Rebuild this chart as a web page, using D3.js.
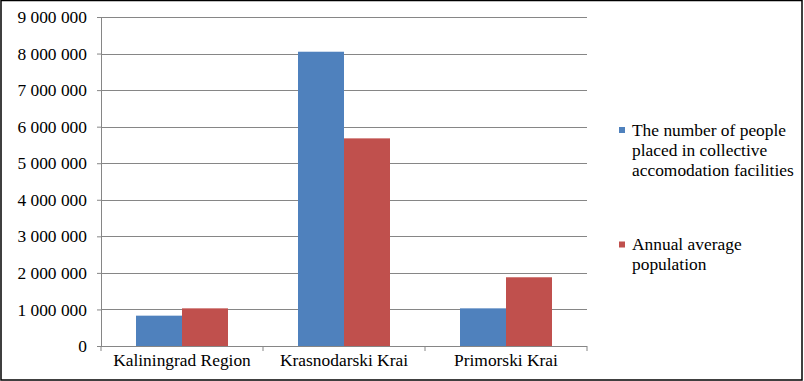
<!DOCTYPE html>
<html>
<head>
<meta charset="utf-8">
<script src="https://cdn.jsdelivr.net/npm/d3@7"></script>
<style>
  body { margin: 0; background: #fff; }
</style>
</head>
<body>
<div id="chart"></div>
<script>
// regions on the x axis
var regions = ["Kaliningrad Region", "Krasnodarski Krai", "Primorski Krai"];
// series
var seriesNames = ["The number of people placed in collective accomodation facilities",
                   "Annual average population"];
var placedPeople = [830000, 8050000, 1030000];
var avgPopulation = [1030000, 5680000, 1880000];
var yTicks = [0, 1000000, 2000000, 3000000, 4000000, 5000000, 6000000, 7000000, 8000000, 9000000];
var colors = ["#4F81BD", "#C0504D"];

var FONT = "Liberation Serif";
var FSIZE = 17.4;
var width = 804, height = 381;
var margin = {left: 101, right: 217, top: 17, bottom: 35};

var svg = d3.select("#chart").append("svg")
    .attr("width", width)
    .attr("height", height)
    .attr("font-family", FONT)
    .attr("font-size", FSIZE);

// outer frame
svg.append("rect")
    .attr("x", 1).attr("y", 0.5)
    .attr("width", width - 3).attr("height", height - 1.5)
    .attr("fill", "none")
    .attr("stroke", "#000")
    .attr("stroke-width", 1.5);

var plotW = width - margin.left - margin.right;
var plotH = height - margin.top - margin.bottom;

var g = svg.append("g")
    .attr("transform", "translate(" + margin.left + "," + margin.top + ")");

var x = d3.scaleBand().domain(regions).range([0, plotW]).paddingInner(0).paddingOuter(0);
var x1 = d3.scaleBand().domain([0, 1]).range([35, x.bandwidth() - 35]);
var y = d3.scaleLinear().domain([0, 9000000]).range([plotH, 0]);

var fmt = function(d) { return d3.format(",")(d).replace(/,/g, " "); };

// gridlines + y axis
var yAxis = d3.axisLeft(y).tickValues(yTicks).tickFormat(fmt).tickSize(4).tickPadding(10);
var ya = g.append("g").call(yAxis)
    .attr("font-family", FONT)
    .attr("font-size", FSIZE);
ya.select(".domain").attr("stroke", "#868686");
ya.selectAll(".tick line").attr("stroke", "#868686");
ya.selectAll("text").attr("fill", "#000");

g.append("g").selectAll("line")
    .data(yTicks.filter(function(d) { return d > 0; }))
    .enter().append("line")
    .attr("x1", 0).attr("x2", plotW)
    .attr("y1", function(d) { return Math.round(y(d)) + 0.5; })
    .attr("y2", function(d) { return Math.round(y(d)) + 0.5; })
    .attr("stroke", "#868686")
    .attr("stroke-width", 1.2);

// bars
var series = [placedPeople, avgPopulation];
series.forEach(function(vals, s) {
  g.append("g").selectAll("rect")
    .data(vals)
    .enter().append("rect")
    .attr("x", function(d, i) { return x(regions[i]) + x1(s); })
    .attr("y", function(d) { return y(d); })
    .attr("width", x1.bandwidth())
    .attr("height", function(d) { return plotH - y(d); })
    .attr("fill", colors[s]);
});

// x axis
var xa = g.append("g").attr("transform", "translate(0," + plotH + ")");
xa.append("line").attr("x1", 0).attr("x2", plotW).attr("y1", 0.5).attr("y2", 0.5)
    .attr("stroke", "#868686").attr("stroke-width", 1.2);
xa.selectAll(".xtick")
    .data(d3.range(regions.length + 1))
    .enter().append("line")
    .attr("x1", function(i) { return i * x.bandwidth(); })
    .attr("x2", function(i) { return i * x.bandwidth(); })
    .attr("y1", 0).attr("y2", 5)
    .attr("stroke", "#868686");
xa.selectAll(".xlab")
    .data(regions)
    .enter().append("text")
    .attr("x", function(d) { return x(d) + x.bandwidth() / 2; })
    .attr("y", 20)
    .attr("text-anchor", "middle")
    .text(function(d) { return d; });

// legend
var legendLines = [["The number of people", "placed in collective", "accomodation facilities"],
                   ["Annual average", "population"]];
var legendTop = [135.5, 250];
legendLines.forEach(function(lines, s) {
  var lg = svg.append("g").attr("transform", "translate(632," + legendTop[s] + ")");
  lg.append("rect").attr("x", -13).attr("y", -8.5).attr("width", 6).attr("height", 6)
    .attr("fill", colors[s]);
  lg.selectAll("text").data(lines).enter().append("text")
    .attr("x", 0)
    .attr("y", function(d, i) { return i * 20; })
    .text(function(d) { return d; });
});
</script>
</body>
</html>
